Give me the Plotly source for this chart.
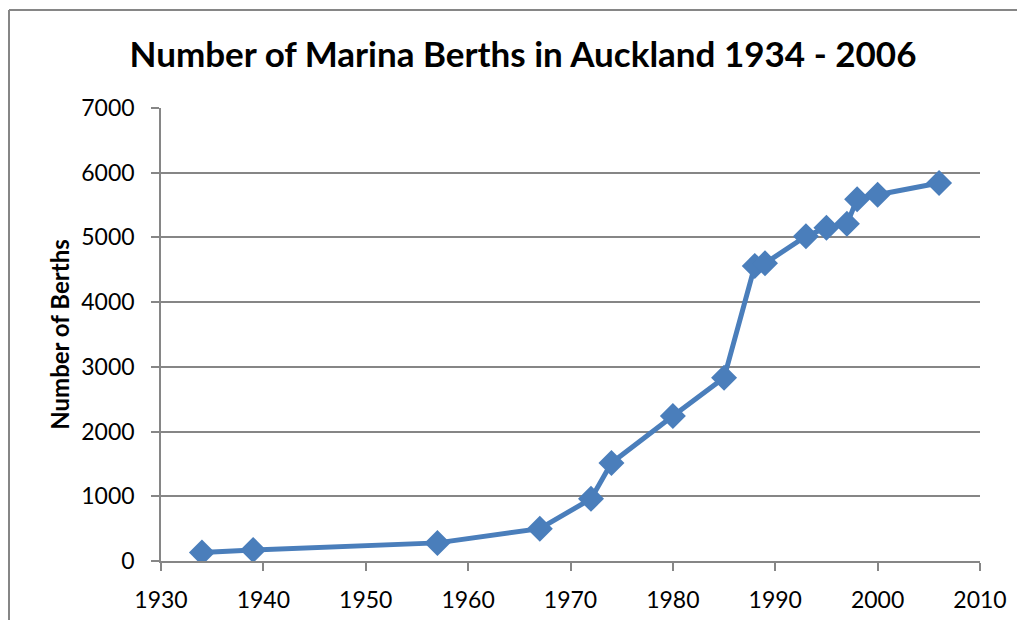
import plotly.graph_objects as go

years = [1934, 1939, 1957, 1967, 1972, 1974, 1980, 1985, 1988, 1989, 1993, 1995, 1997, 1998, 2000, 2006]
berths = [130, 170, 280, 500, 960, 1515, 2240, 2830, 4560, 4600, 5020, 5150, 5210, 5590, 5660, 5840]

x_ticks = [1930, 1940, 1950, 1960, 1970, 1980, 1990, 2000, 2010]
y_ticks = [0, 1000, 2000, 3000, 4000, 5000, 6000, 7000]

W, H = 1025, 620
OFF = 8  # page body offset
ml, mr, mt, mb = 161 - OFF, W - (980 - OFF), 108 - OFF, H - (561 - OFF)

fig = go.Figure()
fig.add_trace(go.Scatter(
    x=years, y=berths, mode="lines+markers",
    line=dict(color="#4a7ebb", width=5),
    marker=dict(symbol="diamond", size=20, color="#4a7ebb"),
    showlegend=False,
))

pw = W - ml - mr
ph = H - mt - mb
def px(xp):
    return (xp - OFF - ml) / pw
def py(yp):
    return (H - mb - (yp - OFF)) / ph

fig.update_layout(
    width=W, height=H,
    margin=dict(l=ml, r=mr, t=mt, b=mb),
    paper_bgcolor="white", plot_bgcolor="white",
    title=dict(text="<b>Number of Marina Berths in Auckland 1934 - 2006</b>",
               xref="container", x=(523 - OFF) / W, xanchor="center",
               yref="container", y=1 - (55 - OFF) / H, yanchor="middle",
               font=dict(family="Lato", size=35, color="black")),
    font=dict(family="Lato", color="black"),
    xaxis=dict(range=[1930, 2010], tickvals=x_ticks, ticktext=[str(v) for v in x_ticks],
               showgrid=False, zeroline=False, showline=True, linecolor="#868686", linewidth=1.5,
               ticks="outside", ticklen=8, tickcolor="#868686", tickwidth=1.5,
               ticklabelstandoff=10,
               tickfont=dict(size=23, family="Lato"), fixedrange=True),
    yaxis=dict(range=[0, 7000], tickvals=y_ticks, ticktext=[str(v) for v in y_ticks],
               showgrid=True, gridcolor="#868686", gridwidth=1.5, zeroline=False,
               showline=True, linecolor="#868686", linewidth=1.5,
               ticks="outside", ticklen=8, tickcolor="#868686", tickwidth=1.5,
               ticklabelstandoff=12,
               tickfont=dict(size=23, family="Lato"),
               title=dict(text="<b>Number of Berths</b>", font=dict(size=24, family="Lato"), standoff=5),
               fixedrange=True),
    shapes=[
        dict(type="line", xref="paper", yref="paper", x0=px(9), x1=px(1040), y0=py(10), y1=py(10),
             line=dict(color="#868686", width=2)),
        dict(type="line", xref="paper", yref="paper", x0=px(9), x1=px(9), y0=py(10), y1=py(640),
             line=dict(color="#868686", width=2)),
    ],
)

fig.write_html("out.html")
